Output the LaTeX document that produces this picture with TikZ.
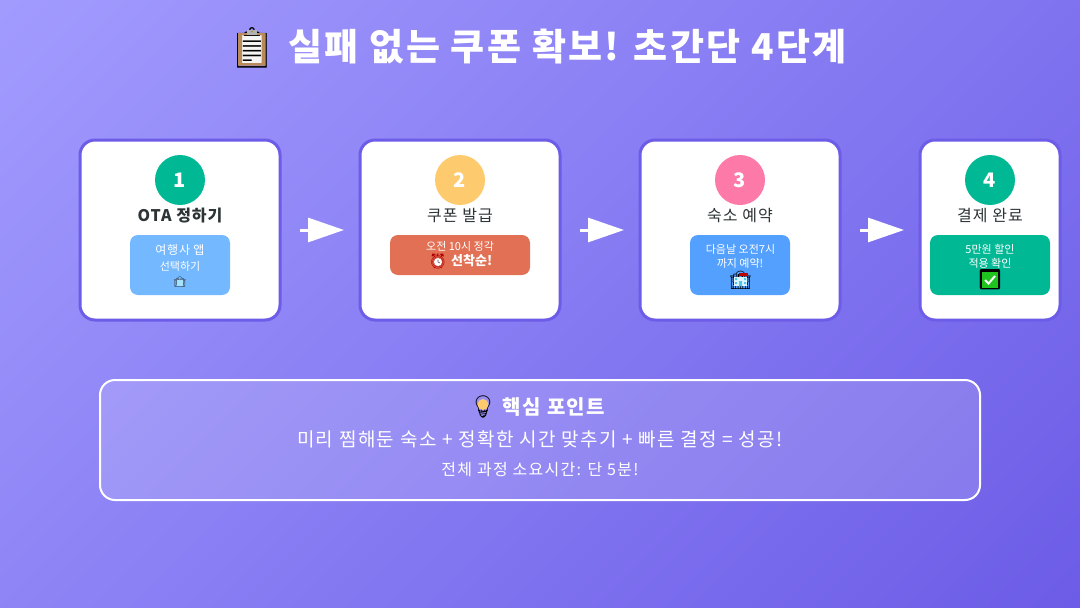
\documentclass[tikz,border=0pt]{standalone}
\usepackage{fontspec}
\setmainfont{Noto Sans CJK KR}
\newfontfamily\emojifont{Noto Emoji}
\usetikzlibrary{arrows.meta,calc}
\definecolor{gradA}{HTML}{A29BFE}
\definecolor{gradB}{HTML}{6C5CE7}
\definecolor{ink}{HTML}{2D3436}
\definecolor{teal}{HTML}{00B894}
\definecolor{amber}{HTML}{FDCB6E}
\definecolor{rose}{HTML}{FD79A8}
\definecolor{sky}{HTML}{74B9FF}
\definecolor{coral}{HTML}{E17055}
\definecolor{azure}{HTML}{54A0FF}
\definecolor{boardbrown}{HTML}{B98A5A}
\definecolor{okgreen}{HTML}{1FC41F}
\newcommand{\fs}[1]{\fontsize{#1}{#1}\selectfont}
\newcommand{\ls}[1]{\addfontfeature{LetterSpace=#1}}
\tikzset{
  card/.style={draw=gradB,line width=3pt,fill=white,rounded corners=15pt,outer sep=0pt,inner sep=0pt,minimum height=180pt},
  badge/.style={circle,minimum size=50pt,inner sep=0pt,outer sep=0pt,text=white,font=\fs{20}\bfseries},
  cardtitle/.style={text=ink,inner sep=0pt,font=\fs{16}\ls{7}},
  subbox/.style={rounded corners=8pt,inner sep=0pt,outer sep=0pt},
  small/.style={text=white,inner sep=0pt},
  flow/.style={white,line width=3pt,-{Triangle[length=36pt,width=24pt,fill=white]}},
  panel/.style={draw=white,line width=2pt,fill=white,fill opacity=0.15,text opacity=1,rounded corners=15pt,inner sep=0pt,outer sep=0pt,minimum width=880pt,minimum height=120pt},
  paneltext/.style={text=white,inner sep=0pt},
  glyph/.style={inner sep=0pt,font=\emojifont}
}
\begin{document}
\begin{tikzpicture}[x=1pt,y=-1pt]
\useasboundingbox (0,0) rectangle (1080,608);
\begin{scope}
\clip (0,0) rectangle (1080,608);
\shade[top color=gradA,bottom color=gradB,shading angle=45] (-56.8,-292.8) rectangle (1136.8,900.8);
\end{scope}
% title
\node[text=white,inner sep=0pt,font=\fs{37}\bfseries\ls{6.2},anchor=center] (title) at (567.5,47) {실패 없는 쿠폰 확보! 초간단 4단계};
\fill[white!92!gray] (241,34) rectangle (262,64);
\node[glyph,text=black,font=\emojifont\fs{40}] (clip) at (252,48) {📋};
\fill[boardbrown,even odd rule] (238,33) rectangle (265.5,65.5) (242,35) rectangle (261.5,63);
\fill[gray!60] (247,30) rectangle (257,34.5);
\fill[boardbrown] (252,31.5) circle (1.2pt);
% cards
\node[card,minimum width=200pt] (c1) at (180,230) {};
\node[card,minimum width=200pt] (c2) at (460,230) {};
\node[card,minimum width=200pt] (c3) at (740,230) {};
\node[card,minimum width=140pt] (c4) at (990,230) {};
% badges
\node[badge,fill=teal] (b1) at (180,180) {1};
\node[badge,fill=amber] (b2) at (460,180) {2};
\node[badge,fill=rose] (b3) at (740,180) {3};
\node[badge,fill=teal] (b4) at (990,180) {4};
% titles
\node[cardtitle,font=\fs{16}\bfseries\ls{6}] (t1) at (180,215.5) {OTA 정하기};
\node[cardtitle] (t2) at (460,215.5) {쿠폰 발급};
\node[cardtitle] (t3) at (740,215.5) {숙소 예약};
\node[cardtitle] (t4) at (990,215.5) {결제 완료};
% sub boxes
\node[subbox,fill=sky,minimum width=100pt,minimum height=60pt] (s1) at (180,265) {};
\node[subbox,fill=coral,minimum width=140pt,minimum height=40pt] (s2) at (460,255) {};
\node[subbox,fill=azure,minimum width=100pt,minimum height=60pt] (s3) at (740,265) {};
\node[subbox,fill=teal,minimum width=120pt,minimum height=60pt] (s4) at (990,265) {};
% box 1
\node[small,font=\fs{12}\ls{6}] (s1a) at (180,250) {여행사 앱};
\node[small,font=\fs{11}] (s1b) at (180,266) {선택하기};
\node[glyph,text=black!80,font=\emojifont\fs{10}] (s1c) at (180,282.5) {🏨};
\fill[white!65!cyan] (177,279.8) rectangle (183,285.5);
% box 2
\node[small,font=\fs{11}] (s2a) at (460,246) {오전 10시 정각};
\node[glyph,text=red!70!black,font=\emojifont\fs{15}] (s2i) at (438,261) {⏰};
\fill[white] (438,262) circle (4pt);
\draw[black!70,line width=.6pt] (438,259.5) -- (438,262) -- (440,263);
\node[small,font=\fs{13}\bfseries,anchor=west] (s2b) at (451,260.5) {선착순!};
% box 3
\node[small,font=\fs{11}] (s3a) at (740.5,249.5) {다음날 오전7시};
\node[small,font=\fs{11}] (s3b) at (740,263.5) {까지 예약!};
\node[glyph,text=black,font=\emojifont\fs{18}] (s3c) at (740.5,280) {🏨};
\fill[white!88!cyan] (733.5,276.5) rectangle (747,286);
\fill[red!75!black] (739,272.5) rectangle (747.5,276);
\fill[cyan!70] (735,278) rectangle (737,280) (744,278) rectangle (746,280) (735,282) rectangle (737,284) (744,282) rectangle (746,284) (739,281) rectangle (742,286);
% box 4
\node[small,font=\fs{11}] (s4a) at (990,249.5) {5만원 할인};
\node[small,font=\fs{11}] (s4b) at (990,263.5) {적용 확인};
\node[glyph,text=black,font=\emojifont\fs{20}] (s4c) at (990,280) {✅};
\fill[okgreen] (982,272) rectangle (998,288);
\draw[white,line width=2pt] (985,280) -- (988.5,283.5) -- (995,276);
% connectors
\coordinate (f1s) at ($(c1.east)+(20,0)$);
\coordinate (f1e) at ($(c1.east)+(64,0)$);
\coordinate (f2s) at ($(c2.east)+(20,0)$);
\coordinate (f2e) at ($(c2.east)+(64,0)$);
\coordinate (f3s) at ($(c3.east)+(20,0)$);
\coordinate (f3e) at ($(c3.east)+(64,0)$);
\draw[flow] (f1s) -- (f1e);
\draw[flow] (f2s) -- (f2e);
\draw[flow] (f3s) -- (f3e);
% panel
\node[panel] (pn) at (540,440) {};
\node[paneltext,font=\fs{20}\bfseries\ls{7}] (p1) at (554,407) {핵심 포인트};
\node[glyph,text=black,font=\emojifont\fs{22}] (p1i) at (483,407) {💡};
\fill[amber] (483,404.5) circle (5.5pt);
\node[paneltext,font=\fs{19}\ls{7.5}] (p2) at (540,439) {미리 찜해둔 숙소 + 정확한 시간 맞추기 + 빠른 결정 = 성공!};
\node[paneltext,font=\fs{16}\ls{8}] (p3) at (540,470) {전체 과정 소요시간: 단 5분!};
\end{tikzpicture}
\end{document}
